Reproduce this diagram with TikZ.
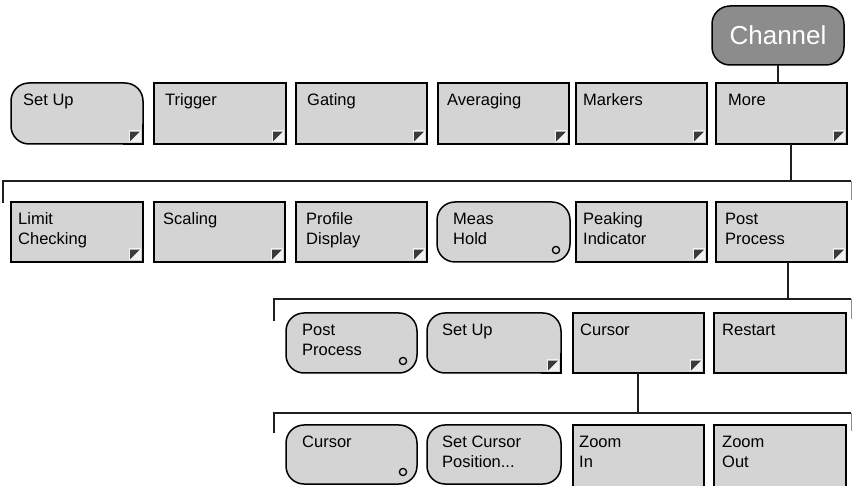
\documentclass[tikz,border=0pt]{standalone}
\usepackage{fontspec}
\setmainfont{Liberation Sans}
\definecolor{btnfill}{HTML}{D4D4D4}
\definecolor{chanfill}{HTML}{8C8C8C}
\definecolor{mkdark}{HTML}{3A3A3A}
\definecolor{mklight}{HTML}{F2F2F2}
\tikzset{
  btn/.style={draw=black, line width=1.5pt, fill=btnfill, anchor=north west, inner sep=0pt, outer sep=0pt},
  rbtn/.style={btn, rounded corners=18pt},
  lbl/.style={anchor=north west, inner sep=0pt, align=left, font=\fontsize{16.5}{20}\selectfont},
  wire/.style={line width=1.5pt, draw=black!88},
  wireend/.style={line width=0.8pt, draw=black!45},
}
\newcommand\btext[3]{\node[lbl] (#1t) at ([xshift=#2pt,yshift=-10.5pt]#1.north west) {#3};}
\newcommand\trimark[1]{%
  \fill[mklight] ([xshift=-14pt,yshift=1.5pt]#1.south east) rectangle ([xshift=-2pt,yshift=13.5pt]#1.south east);
  \fill[mkdark] ([xshift=-12.8pt,yshift=12.3pt]#1.south east) -- ([xshift=-3.2pt,yshift=12.3pt]#1.south east) -- ([xshift=-12.8pt,yshift=2.7pt]#1.south east) -- cycle;}
\newcommand\circmark[1]{\draw[line width=1.3pt, fill=btnfill] ([xshift=-14pt,yshift=12pt]#1.south east) circle[radius=3.6pt];}
\newcommand\sqcorner[1]{%
  \fill[btnfill] ([xshift=-20pt,yshift=0.75pt]#1.south east) rectangle ([xshift=-0.75pt,yshift=20pt]#1.south east);
  \draw[line width=1.5pt, line join=miter] ([xshift=-20pt]#1.south east) -- (#1.south east) -- ([yshift=20pt]#1.south east);}
\begin{document}
\begin{tikzpicture}[x=1pt,y=-1pt]
\useasboundingbox (0,0) rectangle (852,486);

% Channel
\node[btn, rounded corners=18pt, fill=chanfill, minimum width=132pt, minimum height=59pt] (chan) at (712,6) {};
\node[font=\fontsize{26}{30}\selectfont, text=white, inner sep=0pt] (chant) at (chan.center) {Channel};

% Row 1
\node[rbtn, minimum width=132pt, minimum height=61pt] (setup1) at (11,83) {};
\sqcorner{setup1}\trimark{setup1}\btext{setup1}{12}{Set Up}
\node[btn, minimum width=132pt, minimum height=61pt] (trig) at (154,83) {};
\trimark{trig}\btext{trig}{11}{Trigger}
\node[btn, minimum width=131pt, minimum height=61pt] (gate) at (296,83) {};
\trimark{gate}\btext{gate}{11}{Gating}
\node[btn, minimum width=131pt, minimum height=61pt] (avg) at (438,83) {};
\trimark{avg}\btext{avg}{9}{Averaging}
\node[btn, minimum width=131pt, minimum height=61pt] (mark) at (576,83) {};
\trimark{mark}\btext{mark}{7}{Markers}
\node[btn, minimum width=131pt, minimum height=61pt] (more) at (716,83) {};
\trimark{more}\btext{more}{12}{More}

% Row 2
\node[btn, minimum width=132pt, minimum height=60pt] (limit) at (11,202) {};
\trimark{limit}\btext{limit}{7}{Limit\\Checking}
\node[btn, minimum width=131pt, minimum height=60pt] (scal) at (154,202) {};
\trimark{scal}\btext{scal}{9}{Scaling}
\node[btn, minimum width=131pt, minimum height=60pt] (prof) at (296,202) {};
\trimark{prof}\btext{prof}{10}{Profile\\Display}
\node[rbtn, minimum width=133pt, minimum height=60pt] (meas) at (437,202) {};
\circmark{meas}\btext{meas}{16}{Meas\\Hold}
\node[btn, minimum width=131pt, minimum height=60pt] (peak) at (576,202) {};
\trimark{peak}\btext{peak}{7}{Peaking\\Indicator}
\node[btn, minimum width=131pt, minimum height=60pt] (post) at (716,202) {};
\trimark{post}\btext{post}{9}{Post\\Process}

% Row 3
\node[rbtn, minimum width=131pt, minimum height=60pt] (pp3) at (286,313) {};
\circmark{pp3}\btext{pp3}{16}{Post\\Process}
\node[rbtn, minimum width=134pt, minimum height=60pt] (su3) at (427,313) {};
\sqcorner{su3}\trimark{su3}\btext{su3}{15}{Set Up}
\node[btn, minimum width=131pt, minimum height=60pt] (cur3) at (573,313) {};
\trimark{cur3}\btext{cur3}{7}{Cursor}
\node[btn, minimum width=132pt, minimum height=60pt] (rst) at (714,313) {};
\btext{rst}{8}{Restart}

% Row 4
\node[rbtn, minimum width=131pt, minimum height=59pt] (cur4) at (286,425) {};
\circmark{cur4}\btext{cur4}{16}{Cursor}
\node[rbtn, minimum width=134pt, minimum height=59pt] (scp) at (427,425) {};
\btext{scp}{15}{Set Cursor\\Position...}
\node[btn, minimum width=131pt, minimum height=70pt] (zin) at (573,425) {};
\btext{zin}{6}{Zoom\\In}
\node[btn, minimum width=132pt, minimum height=70pt] (zout) at (714,425) {};
\btext{zout}{8}{Zoom\\Out}

% Connectors and brackets
\draw[wire] (chan.south) -- (chan.south |- more.north);

\coordinate (j1) at (791,181);
\coordinate (b1l) at (3,203);
\coordinate (b1c) at (3,181);
\coordinate (b1r) at (851,181);
\draw[wire] (more.south -| j1) -- (j1);
\draw[wire] (b1l) -- (b1c) -- (b1r);
\draw[wireend] (b1r) -- ++(0,19);

\coordinate (j2) at (788,299);
\coordinate (b2l) at (274,321);
\coordinate (b2c) at (274,299);
\coordinate (b2r) at (851,299);
\draw[wire] (post.south -| j2) -- (j2);
\draw[wire] (b2l) -- (b2c) -- (b2r);
\draw[wireend] (b2r) -- ++(0,20);

\coordinate (j3) at (638,413);
\coordinate (b3l) at (274,433);
\coordinate (b3c) at (274,413);
\coordinate (b3r) at (851,413);
\draw[wire] (cur3.south -| j3) -- (j3);
\draw[wire] (b3l) -- (b3c) -- (b3r);
\draw[wireend] (b3r) -- ++(0,18);
\end{tikzpicture}
\end{document}
